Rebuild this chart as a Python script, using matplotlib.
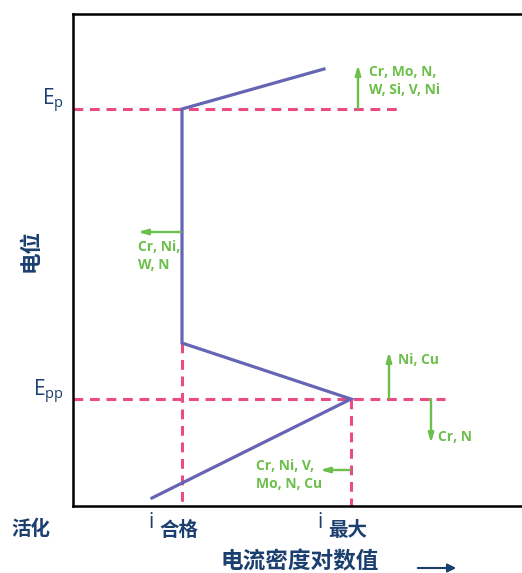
import matplotlib
matplotlib.use("Agg")
import matplotlib.pyplot as plt
from matplotlib.patches import FancyArrowPatch

# polarisation curve (x = log current, y = potential, in picture units, y grows downward)
curve_x = [152, 351, 182, 182, 324]
curve_y = [498, 399, 343, 109, 69]

# reference lines
ep_y = 109
epp_y = 399
ep_line_x = [73, 397]
epp_line_x = [73, 445]
i_pass_x = 182
i_pass_y = [343, 506]
i_max_x = 351
i_max_y = [399, 506]

# element effect arrows: (start x, start y, end x, end y)
arrows = [
    (358, 108, 358, 65),
    (181, 232, 138, 232),
    (389, 398, 389, 352),
    (431, 399, 431, 443),
    (350, 470, 320, 470),
]
arrow_texts = ["Cr, Mo, N,\nW, Si, V, Ni", "Cr, Ni,\nW, N", "Ni, Cu", "Cr, N", "Cr, Ni, V,\nMo, N, Cu"]
text_pos = [(369, 81), (138, 256), (398, 360), (438, 437), (256, 475)]

navy = "#1b3f6e"
green = "#6cbf4a"
pink = "#ec4a82"
purple = "#6565b3"
cjk = ["Noto Sans CJK SC", "DejaVu Sans"]
latin = ["Liberation Sans Narrow", "Open Sans", "DejaVu Sans"]

fig = plt.figure(figsize=(5.22, 5.73), dpi=100)
ax = fig.add_axes([73 / 522, 1 - 506 / 573, 449 / 522, 492 / 573])
ax.set_xlim(73, 522)
ax.set_ylim(506, 14)

ax.plot(curve_x, curve_y, color=purple, lw=2.3, zorder=3, solid_joinstyle="miter")

dash = (0, (3.2, 2.2))
ax.plot(ep_line_x, [ep_y, ep_y], color=pink, lw=2.2, linestyle=dash, zorder=2)
ax.plot(epp_line_x, [epp_y, epp_y], color=pink, lw=2.2, linestyle=dash, zorder=2)
ax.plot([i_pass_x, i_pass_x], i_pass_y, color=pink, lw=2.2, linestyle=dash, zorder=2)
ax.plot([i_max_x, i_max_x], i_max_y, color=pink, lw=2.2, linestyle=dash, zorder=2)

for (x0, y0, x1, y1) in arrows:
    ax.annotate("", xy=(x1, y1), xytext=(x0, y0),
                arrowprops=dict(arrowstyle="-|>,head_length=0.55,head_width=0.16",
                                color=green, lw=1.7, shrinkA=0, shrinkB=0))

for txt, (tx, ty) in zip(arrow_texts, text_pos):
    ax.text(tx, ty, txt, color=green, fontsize=10, fontweight="bold",
            family=latin, ha="left", va="center", linespacing=1.35)

ax.set_xticks([])
ax.set_yticks([])
for s in ["left", "bottom", "top"]:
    ax.spines[s].set_linewidth(1.8)
ax.spines["right"].set_visible(False)

# potential labels
fig.text(64 / 522, 1 - 101 / 573, r"E$_\mathregular{p}$", color=navy, fontsize=15,
         family=["Open Sans", "DejaVu Sans"], ha="right", va="center")
fig.text(64 / 522, 1 - 392 / 573, r"E$_\mathregular{pp}$", color=navy, fontsize=15,
         family=["Open Sans", "DejaVu Sans"], ha="right", va="center")

fig.text(30 / 522, 1 - 251 / 573, "电位", color=navy, fontsize=15.5, fontweight="bold",
         family=cjk, rotation=90, ha="center", va="center")
fig.text(31 / 522, 1 - 529 / 573, "活化", color=navy, fontsize=14, fontweight="bold",
         family=cjk, ha="center", va="center")

for ix, sub in [(148, "合格"), (317, "最大")]:
    fig.text(ix / 522, 1 - 522 / 573, "i", color=navy, fontsize=15,
             family=["Open Sans", "DejaVu Sans"], ha="left", va="center")
    fig.text((ix + 11) / 522, 1 - 530 / 573, sub, color=navy, fontsize=14, fontweight="bold",
             family=cjk, ha="left", va="center")

fig.text(300 / 522, 1 - 562 / 573, "电流密度对数值", color=navy, fontsize=16.3, fontweight="bold",
         family=cjk, ha="center", va="center")
fig.add_artist(FancyArrowPatch(
    (415 / 522, 1 - 568 / 573), (459 / 522, 1 - 568 / 573), transform=fig.transFigure,
    arrowstyle="-|>,head_length=5,head_width=2.5", color=navy, lw=1.5))

fig.savefig("out.png", dpi=100)
